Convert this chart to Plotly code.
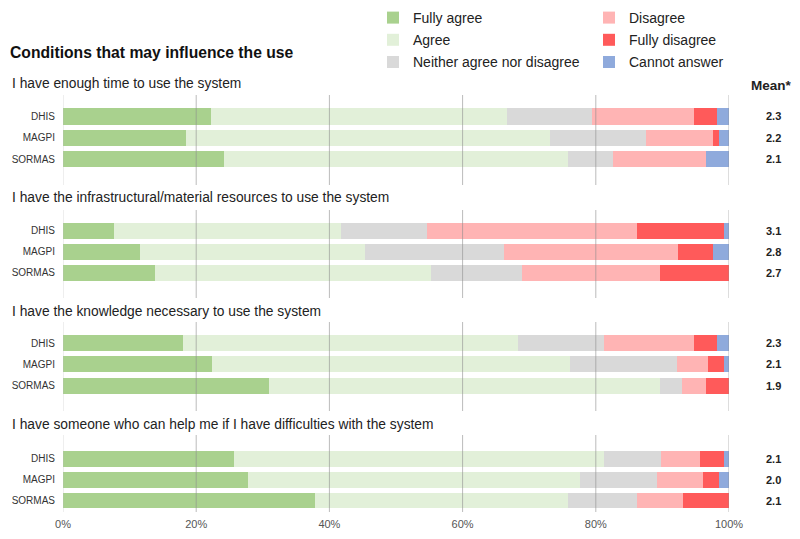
import plotly.graph_objects as go
from plotly.subplots import make_subplots

answers = ["Fully agree", "Agree", "Neither agree nor disagree",
           "Disagree", "Fully disagree", "Cannot answer"]
colors = ["#a9d18e", "#e2f0d9", "#d9d9d9", "#ffb4b4", "#ff5a5a", "#8faadc"]
systems = ["DHIS", "MAGPI", "SORMAS"]

statements = [
    "I have enough time to use the system",
    "I have the infrastructural/material resources to use the system",
    "I have the knowledge necessary to use the system",
    "I have someone who can help me if I have difficulties with the system",
]

# shares in % per system (DHIS, MAGPI, SORMAS), in answer order
time_shares = [
    [22.2, 44.5, 12.8, 15.3, 3.4, 1.8],
    [18.5, 54.6, 14.5, 10.0, 0.9, 1.5],
    [24.2, 51.6, 6.8, 13.9, 0.0, 3.5],
]
resources_shares = [
    [7.6, 34.2, 12.9, 31.5, 13.0, 0.8],
    [11.5, 33.8, 20.9, 26.1, 5.3, 2.4],
    [13.8, 41.5, 13.6, 20.7, 10.4, 0.0],
]
knowledge_shares = [
    [18.0, 50.3, 12.9, 13.6, 3.4, 1.8],
    [22.3, 53.8, 16.1, 4.7, 2.3, 0.8],
    [31.0, 58.7, 3.3, 3.5, 3.5, 0.0],
]
help_shares = [
    [25.6, 55.6, 8.6, 5.8, 3.6, 0.8],
    [27.8, 49.9, 11.5, 6.9, 2.4, 1.5],
    [37.9, 37.9, 10.4, 6.9, 6.9, 0.0],
]
means = [
    [2.3, 2.2, 2.1],
    [3.1, 2.8, 2.7],
    [2.3, 2.1, 1.9],
    [2.1, 2.0, 2.1],
]
x_ticks = [0, 20, 40, 60, 80, 100]
x_labels = ["0%", "20%", "40%", "60%", "80%", "100%"]

groups = [time_shares, resources_shares, knowledge_shares, help_shares]

FONT = "Liberation Sans, Arial, sans-serif"
H_TOP, H_BOT = 95, 512          # pixel rows of the plot area
def py(p):                      # pixel row -> paper y
    return (H_BOT - p) / (H_BOT - H_TOP)

domains = [(95, 185), (210, 298), (322, 411), (435, 512)]
ranges = [[3.2, -1], [3.2, -1], [3.2, -1], [2.55, -1.15]]
sub_y = [84, 197, 311, 424]

fig = make_subplots(rows=4, cols=1, shared_xaxes=True)

for g, shares in enumerate(groups):
    for a, name in enumerate(answers):
        fig.add_trace(go.Bar(
            y=systems,
            x=[row[a] for row in shares],
            name=name,
            orientation="h",
            marker=dict(color=colors[a], line=dict(width=0)),
            showlegend=(g == 0),
            legend="legend" if a < 3 else "legend2",
            legendgroup=name,
            hovertemplate="%{y}: %{x:.1f}%<extra>" + name + "</extra>",
        ), row=g + 1, col=1)

    top, bot = domains[g]
    fig.update_yaxes(domain=[py(bot), py(top)], range=ranges[g],
                     showgrid=False, zeroline=False, showline=False, ticks="",
                     tickfont=dict(size=10, color="#333333", family=FONT),
                     ticklabelstandoff=7, row=g + 1, col=1)
    fig.update_xaxes(range=[0, 100], showgrid=False, zeroline=False,
                     showline=False,
                     tickvals=x_ticks, ticktext=x_labels, ticks="",
                     showticklabels=(g == 3), ticklabelstandoff=4,
                     tickfont=dict(size=11, color="#555555", family=FONT),
                     row=g + 1, col=1)

    for t in x_ticks:
        fig.add_vline(x=t, row=g + 1, col=1, layer="above",
                      line=dict(color="rgba(140,140,140,0.6)" if t else "rgba(190,190,190,0.5)",
                                width=1))

    fig.add_annotation(text=statements[g], xref="paper", yref="paper",
                       x=(10 - 63) / 666, y=py(sub_y[g]), xanchor="left",
                       yanchor="middle", showarrow=False,
                       font=dict(size=13.8, color="#222222", family=FONT))

    yref = "y" if g == 0 else "y%d" % (g + 1)
    for s, m in zip(systems, means[g]):
        fig.add_annotation(text="<b>%.1f</b>" % m, xref="paper", yref=yref,
                           x=(773 - 63) / 666, y=s, xanchor="center",
                           yanchor="middle", showarrow=False,
                           font=dict(size=11, color="#222222", family=FONT))

fig.add_annotation(text="<b>Mean*</b>", xref="paper", yref="paper",
                   x=(771 - 63) / 666, y=py(86), xanchor="center",
                   yanchor="middle", showarrow=False,
                   font=dict(size=13.5, color="#222222", family=FONT))

legend_style = dict(orientation="v", xanchor="left", yanchor="top",
                    bgcolor="rgba(0,0,0,0)", tracegroupgap=1,
                    font=dict(size=14, color="#222222", family=FONT))

fig.update_layout(
    template="none",
    width=800, height=539,
    margin=dict(l=63, r=71, t=H_TOP, b=539 - H_BOT, autoexpand=False),
    barmode="stack", bargap=0.24,
    plot_bgcolor="white", paper_bgcolor="white",
    font=dict(family=FONT, color="#333333"),
    title=dict(text="<b>Conditions that may influence the use</b>",
               xref="container", x=10 / 800, xanchor="left",
               yref="container", y=1 - 53 / 539, yanchor="middle",
               font=dict(size=15.7, color="#111111", family=FONT)),
    legend=dict(x=(373 - 63) / 666, y=py(2), **legend_style),
    legend2=dict(x=(589 - 63) / 666, y=py(2), **legend_style),
)

fig.write_html("out.html", config={"displayModeBar": False},
               post_script="document.body.style.margin='0';")
